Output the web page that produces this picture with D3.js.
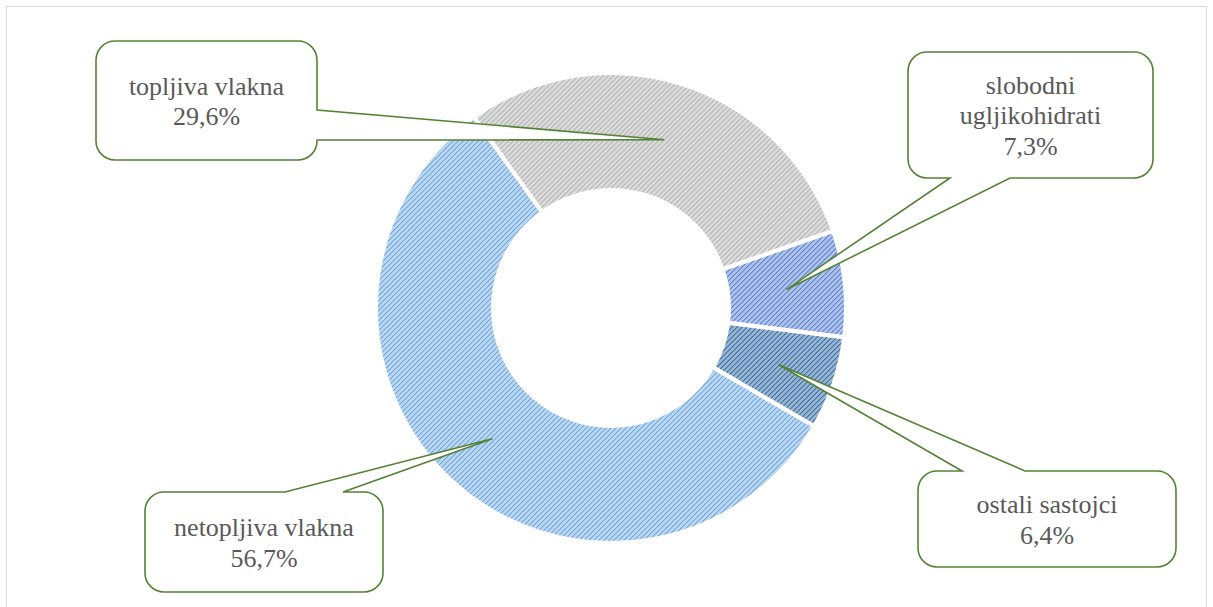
<!DOCTYPE html>
<html>
<head>
<meta charset="utf-8">
<script src="https://cdn.jsdelivr.net/npm/d3@7"></script>
<style>
  html, body { margin: 0; padding: 0; background: #ffffff; }
  svg { display: block; }
</style>
</head>
<body>
<svg id="chart" width="1213" height="607"></svg>
<script>
// ---- data ----
const categories = ["topljiva vlakna", "slobodni ugljikohidrati", "ostali sastojci", "netopljiva vlakna"];
const values = [29.6, 7.3, 6.4, 56.7];
const labelLines = [["topljiva vlakna"], ["slobodni", "ugljikohidrati"], ["ostali sastojci"], ["netopljiva vlakna"]];

// ---- styles ----
const bgColors = ["#f3f3f3", "#d6e0f5", "#c6d7e8", "#e0edf9"];
const stripeColors = ["#a8a8a8", "#4068c4", "#23568a", "#4e93d3"];
const edgeColors = ["#bdbdbd", "#7f9fdd", "#5f8bb8", "#8fbce6"];
const adjOpacity = [0.3, 0.4, 0.4, 0.35];

// ---- layout ----
const cx = 611, cy = 308;
const rOuter = 235, rInner = 118;
const startDeg = -35.7;
const callouts = [
  { x: 96,  y: 41,  w: 221, h: 119, side: "right",  b1: 69,  b2: 99 },
  { x: 908, y: 52,  w: 245, h: 126, side: "bottom", b1: 42,  b2: 102 },
  { x: 918, y: 471, w: 258, h: 96,  side: "top",    b1: 44,  b2: 107 },
  { x: 145, y: 492, w: 238, h: 100, side: "top",    b1: 140, b2: 198 }
];

const svg = d3.select("#chart");
const defs = svg.append("defs");

// frame
svg.append("rect")
  .attr("x", 6.5).attr("y", 6.5)
  .attr("width", 1200).attr("height", 640)
  .attr("fill", "none").attr("stroke", "#d9d9d9").attr("stroke-width", 1);

// patterns (pixel diagonal stripes, rising to the right)
values.forEach((v, i) => {
  const p = defs.append("pattern")
    .attr("id", "pat" + i)
    .attr("patternUnits", "userSpaceOnUse")
    .attr("width", 5).attr("height", 5);
  p.append("rect").attr("width", 5).attr("height", 5).attr("fill", bgColors[i]);
  for (let k = 0; k < 5; k++) {
    p.append("rect").attr("x", k).attr("y", 4 - k).attr("width", 1).attr("height", 1)
      .attr("fill", stripeColors[i]).attr("shape-rendering", "crispEdges");
    p.append("rect").attr("x", (k + 1) % 5).attr("y", 4 - k).attr("width", 1).attr("height", 1)
      .attr("fill", stripeColors[i]).attr("fill-opacity", adjOpacity[i]).attr("shape-rendering", "crispEdges");
  }

  const g = defs.append("radialGradient")
    .attr("id", "edge" + i)
    .attr("gradientUnits", "userSpaceOnUse")
    .attr("cx", cx).attr("cy", cy).attr("r", 233);
  const stops = [[0, 0], [0.515, 0.45], [0.57, 0.0], [0.93, 0.0], [1, 0.45]];
  stops.forEach(s => g.append("stop")
    .attr("offset", s[0])
    .attr("stop-color", edgeColors[i])
    .attr("stop-opacity", s[1]));
});

const pie = d3.pie().sort(null).value(d => d)
  .startAngle(startDeg * Math.PI / 180)
  .endAngle(2 * Math.PI + startDeg * Math.PI / 180);
const arcs = pie(values);
const arc = d3.arc().innerRadius(rInner).outerRadius(rOuter);
const mid = d3.arc().innerRadius((120 + 233) / 2).outerRadius((120 + 233) / 2);

const gChart = svg.append("g").attr("transform", `translate(${cx},${cy})`);
gChart.selectAll("path.slice").data(arcs).enter().append("path")
  .attr("class", "slice")
  .attr("d", arc)
  .attr("fill", (d, i) => `url(#pat${i})`);

// edge shading: gradient defined in root user space
const gShade = svg.append("g");
gShade.selectAll("path").data(arcs).enter().append("path")
  .attr("d", d => arc(d))
  .attr("transform", `translate(${cx},${cy})`)
  .attr("fill", (d, i) => `url(#edge${i})`);

// white borders between slices
const gBorder = svg.append("g").attr("transform", `translate(${cx},${cy})`);
gBorder.selectAll("path").data(arcs).enter().append("path")
  .attr("d", arc)
  .attr("fill", "none")
  .attr("stroke", "#ffffff")
  .attr("stroke-width", 4)
  .attr("stroke-linejoin", "miter");

// callouts
const fmt = v => d3.format(".1f")(v).replace(".", ",") + "%";
function calloutPath(c, tip) {
  const r = 19;
  const L = c.x, T = c.y, R = c.x + c.w, B = c.y + c.h;
  let d = `M${L + r},${T}`;
  if (c.side === "top") d += `H${L + c.b1}L${tip[0]},${tip[1]}L${L + c.b2},${T}`;
  d += `H${R - r}A${r},${r} 0 0 1 ${R},${T + r}`;
  if (c.side === "right") d += `V${T + c.b1}L${tip[0]},${tip[1]}L${R},${T + c.b2}`;
  d += `V${B - r}A${r},${r} 0 0 1 ${R - r},${B}`;
  if (c.side === "bottom") d += `H${L + c.b2}L${tip[0]},${tip[1]}L${L + c.b1},${B}`;
  d += `H${L + r}A${r},${r} 0 0 1 ${L},${B - r}V${T + r}A${r},${r} 0 0 1 ${L + r},${T}Z`;
  return d;
}

const gCall = svg.append("g");
arcs.forEach((a, i) => {
  const c = callouts[i];
  const cen = mid.centroid(a);
  const tip = [cx + cen[0], cy + cen[1]];
  gCall.append("path")
    .attr("d", calloutPath(c, tip))
    .attr("fill", "#ffffff")
    .attr("stroke", "#548235")
    .attr("stroke-width", 1.6)
    .attr("stroke-linejoin", "miter");
  const lines = labelLines[i].concat([fmt(values[i])]);
  const lh = 30.5;
  const first = c.y + c.h / 2 - (lines.length * lh) / 2 + 24.5;
  lines.forEach((ln, k) => {
    gCall.append("text")
      .attr("x", c.x + c.w / 2)
      .attr("y", first + k * lh)
      .attr("text-anchor", "middle")
      .style("font-family", '"Liberation Serif"')
      .style("font-size", "26px")
      .attr("fill", "#595959")
      .text(ln);
  });
});
</script>
</body>
</html>
